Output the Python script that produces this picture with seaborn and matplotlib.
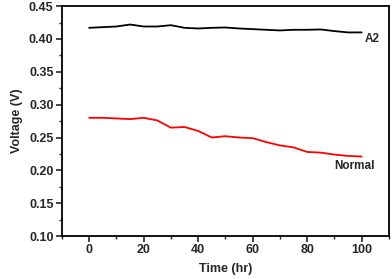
import numpy as np
import pandas as pd
import seaborn as sns
import matplotlib.pyplot as plt
from matplotlib.ticker import MultipleLocator

# Datos
tiempo = [0, 5, 10, 15, 20, 25, 30, 35, 40, 45, 50, 55, 60, 65, 70, 75, 80, 85, 90, 95, 100]
voltaje_a2 = [0.417, 0.418, 0.419, 0.422, 0.419, 0.419, 0.421, 0.417, 0.416, 0.417, 0.4175,
              0.416, 0.415, 0.414, 0.413, 0.414, 0.414, 0.4145, 0.412, 0.410, 0.410]
voltaje_normal = [0.280, 0.280, 0.279, 0.278, 0.280, 0.276, 0.265, 0.266, 0.260, 0.250, 0.252,
                  0.250, 0.249, 0.243, 0.238, 0.235, 0.228, 0.227, 0.224, 0.222, 0.221]

df = pd.DataFrame({
    "Tiempo": tiempo * 2,
    "Voltaje": voltaje_a2 + voltaje_normal,
    "Serie": ["A2"] * len(tiempo) + ["Normal"] * len(tiempo),
})

sns.set_style("ticks")
plt.rcParams["font.family"] = ["Liberation Sans", "DejaVu Sans"]
plt.rcParams["font.weight"] = "bold"

fig = plt.figure(figsize=(3.92, 2.79), dpi=100)
ax = fig.add_axes([0.158, 0.154, 0.834, 0.824])
sns.lineplot(data=df, x="Tiempo", y="Voltaje", hue="Serie",
             palette={"A2": "black", "Normal": "#ff0000"}, linewidth=1.3,
             legend=False, ax=ax)

ax.set_xlim(-10, 110)
ax.set_ylim(0.10, 0.45)
ax.xaxis.set_major_locator(MultipleLocator(20))
ax.xaxis.set_minor_locator(MultipleLocator(10))
ax.yaxis.set_major_locator(MultipleLocator(0.05))
ax.yaxis.set_minor_locator(MultipleLocator(0.025))
ax.yaxis.set_major_formatter(plt.FormatStrFormatter("%.2f"))
ax.tick_params(which="major", direction="out", length=4, width=1.2, labelsize=9, pad=2)
ax.tick_params(which="minor", direction="out", length=2.5, width=1.0)
for s in ax.spines.values():
    s.set_linewidth(1.3)
    s.set_color("black")

ax.set_xlabel("Time (hr)", fontsize=9, fontweight="bold", labelpad=5)
ax.set_ylabel("Voltage (V)", fontsize=9, fontweight="bold", labelpad=4)

ax.text(101, 0.400, "A2", fontsize=8.5, fontweight="bold", ha="left", va="center")
ax.text(105, 0.207, "Normal", fontsize=8.5, fontweight="bold", ha="right", va="center")

fig.savefig("out.png", dpi=100)
